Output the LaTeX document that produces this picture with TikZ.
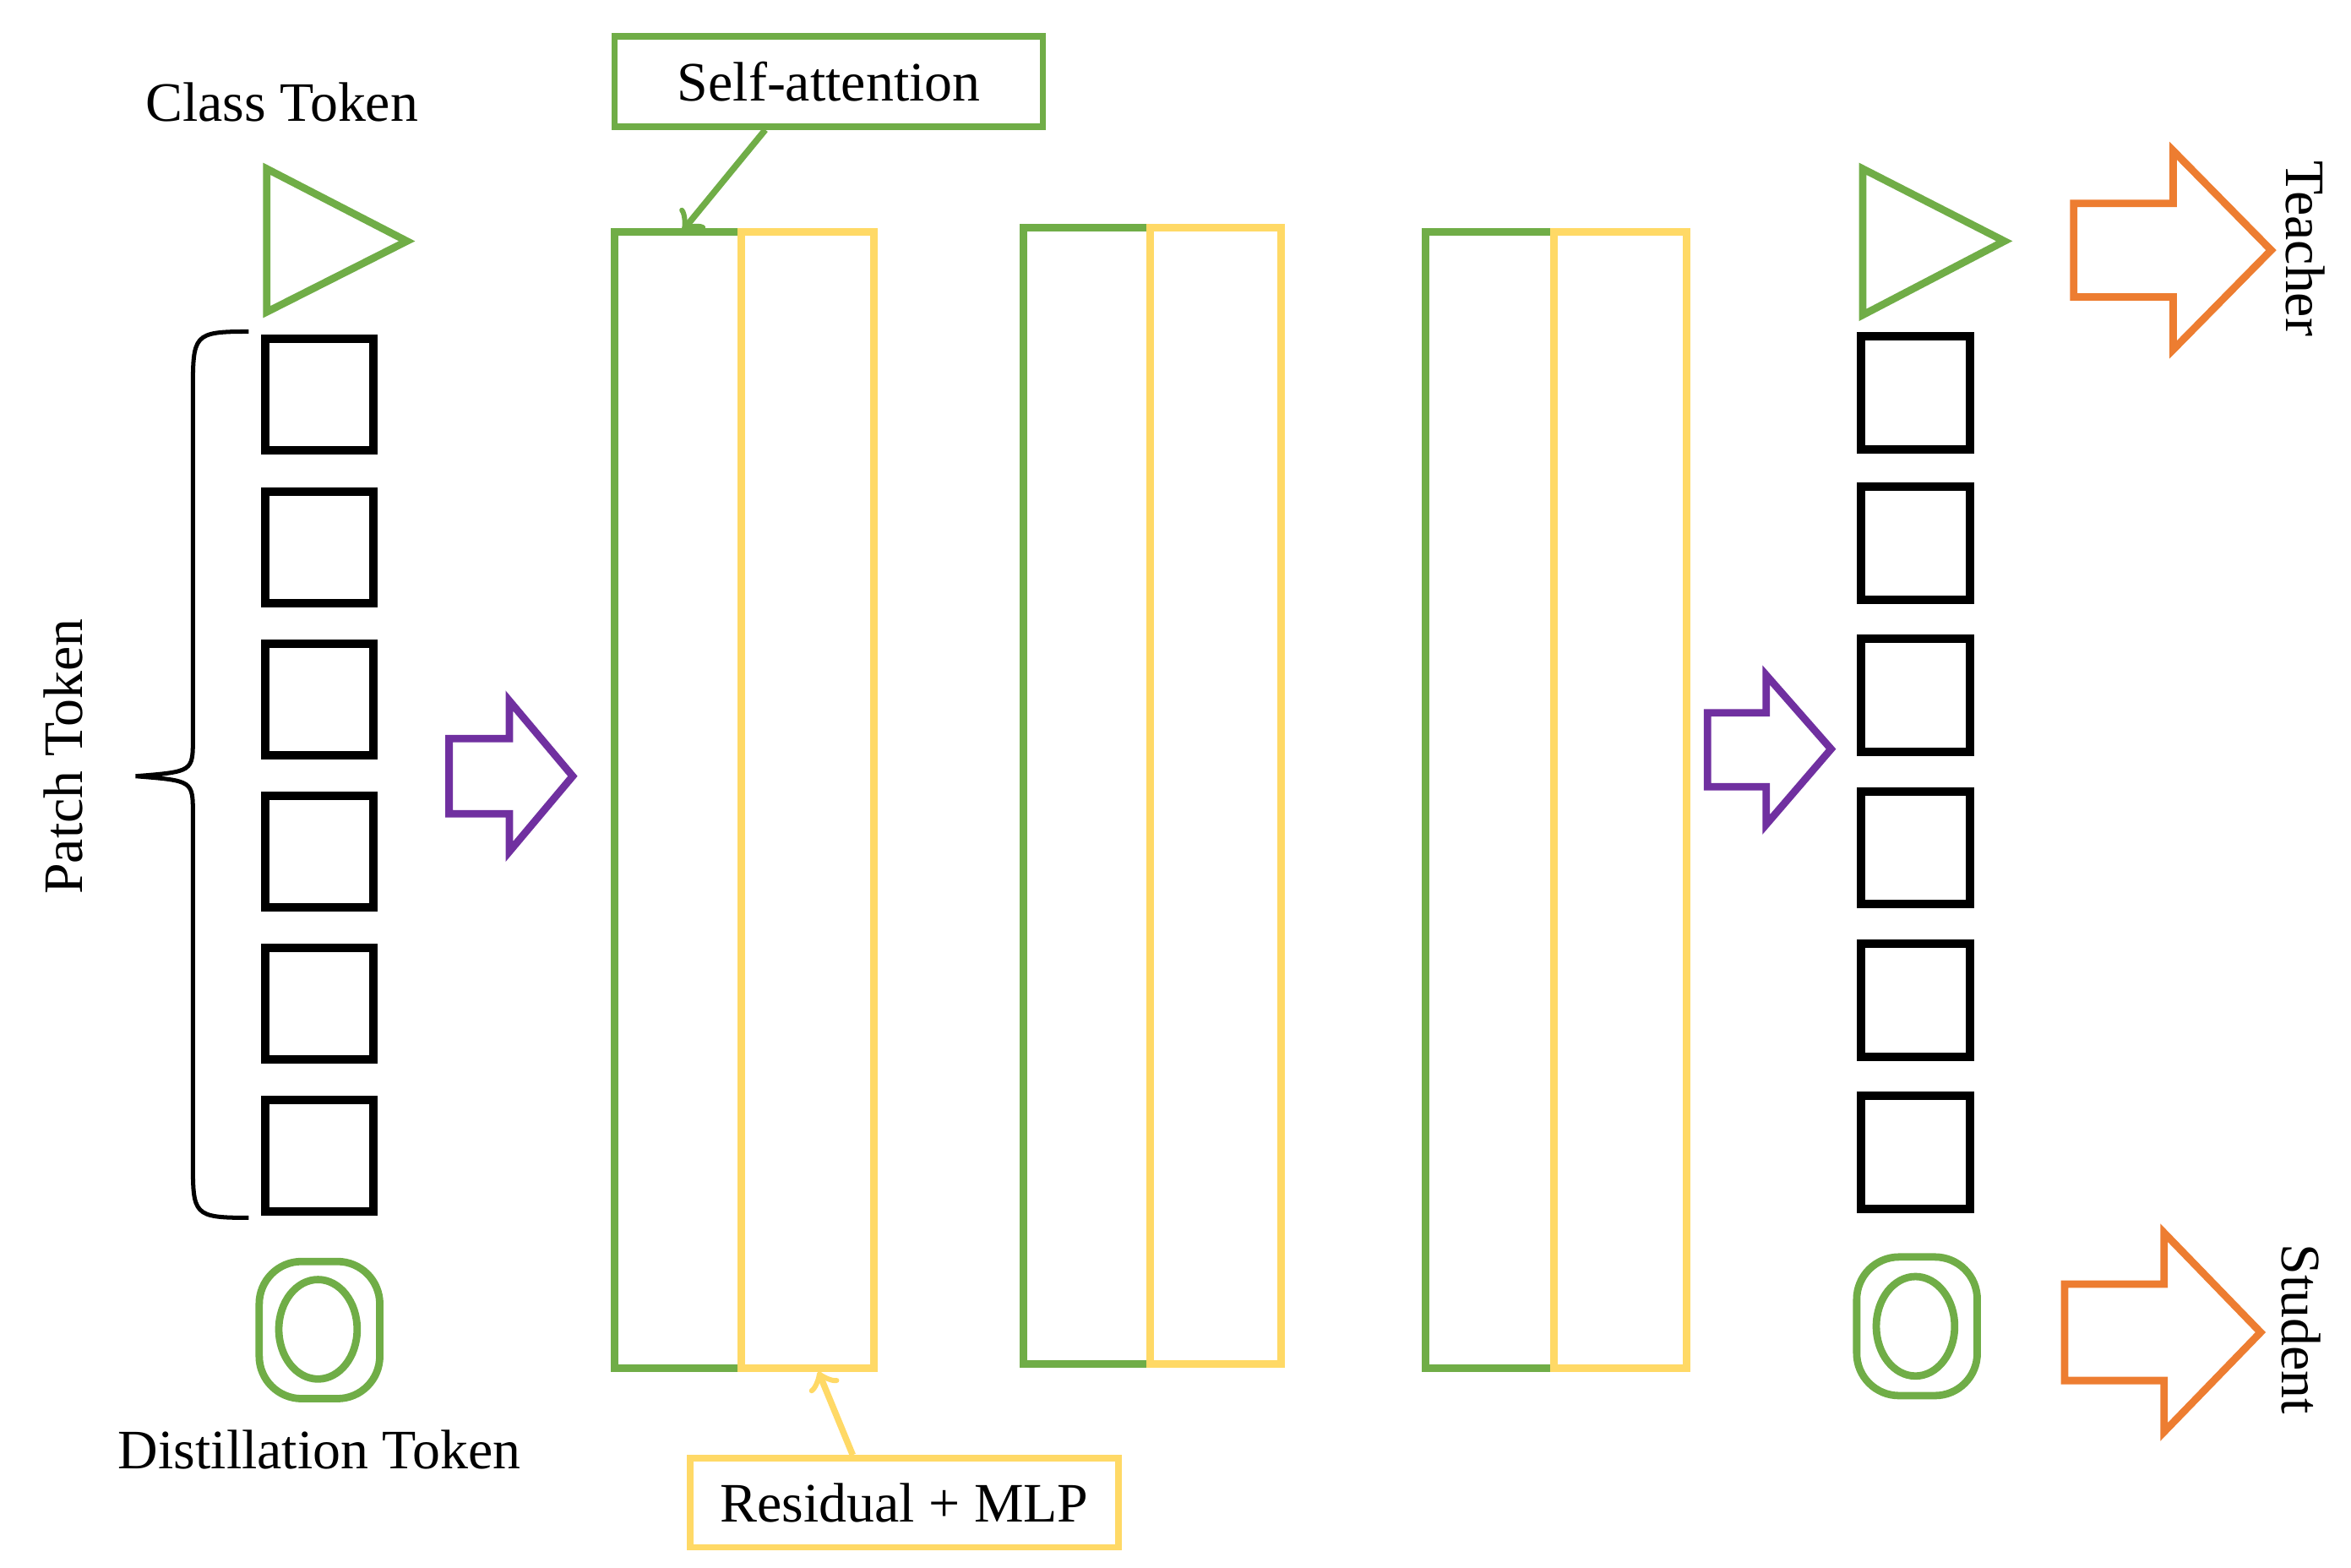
\documentclass[tikz,border=0pt]{standalone}
\usepackage{fontspec}
\setmainfont{Liberation Serif}
\definecolor{gr}{HTML}{70AD47}
\definecolor{ye}{HTML}{FFD966}
\definecolor{pu}{HTML}{7030A0}
\definecolor{orr}{HTML}{ED7D31}
\begin{document}
\begin{tikzpicture}[x=0.01cm,y=-0.01cm,
  tok/.style={draw=black,line width=1.6pt},
  gl/.style={draw=gr,line width=1.4pt},
  yl/.style={draw=ye,line width=1.4pt},
  lbl/.style={font=\fontsize{10.5}{12.5}\selectfont,inner sep=0pt}]
\useasboundingbox (0,0) rectangle (1560,1040);
% left tokens
\node[lbl] (ct) at (187,68) {Class Token};
\draw[gl] (177,112) -- (177,207) -- (270,160) -- cycle;
\foreach \y in {225,326,427,528,629,730} \draw[tok] (176,\y) rectangle ++(72,74);
\draw[line width=0.8pt] (165,220) .. controls (128,220) and (128,222) .. (128,260) -- (128,490) .. controls (128,512) .. (90,515) .. controls (128,518) .. (128,540) -- (128,770) .. controls (128,806) and (128,808) .. (165,808);
\node[lbl,rotate=90] (pt) at (42,502) {Patch Token};
\draw[gl,rounded corners=8pt] (172,837) rectangle (252,928);
\draw[gl] (211,882) ellipse (26 and 33);
\node[lbl] (dt) at (212,962) {Distillation Token};
% purple arrows
\draw[draw=pu,line width=1.4pt] (298,490) -- (338,490) -- (338,465) -- (380,515) -- (338,565) -- (338,540) -- (298,540) -- cycle;
\draw[draw=pu,line width=1.4pt] (1133,473) -- (1172,473) -- (1172,448) -- (1215,497) -- (1172,547) -- (1172,522) -- (1133,522) -- cycle;
% blocks
\draw[gl] (408,154) rectangle (492,908);
\draw[yl] (492,154) rectangle (580,908);
\draw[gl] (679,151) rectangle (763,905);
\draw[yl] (763,151) rectangle (850,905);
\draw[gl] (946,154) rectangle (1031,908);
\draw[yl] (1031,154) rectangle (1119,908);
\coordinate (satop) at (453,153);
\coordinate (rmbot) at (543,910);
\node[lbl,gl,line width=1.2pt,minimum width=2.84cm,minimum height=0.6cm] (sa) at (550,54) {Self-attention};
\node[lbl,yl,line width=1.2pt,minimum width=2.84cm,minimum height=0.59cm] (rm) at (600,997) {Residual + MLP};
\draw[gr,line width=1.2pt,->] (sa.south west) ++(102,0) -- (satop);
\draw[ye,line width=1.2pt,->] (rm.north west) ++(110,0) -- (rmbot);
% right tokens
\draw[gl] (1236,112) -- (1236,209) -- (1330,160) -- cycle;
\foreach \y in {223,323,424,525,626,727} \draw[tok] (1235,\y) rectangle ++(72,75);
\draw[gl,rounded corners=8pt] (1232,834) rectangle (1312,926);
\draw[gl] (1271,880) ellipse (26 and 33);
% orange arrows
\draw[draw=orr,line width=1.4pt] (1376,135) -- (1442,135) -- (1442,100) -- (1507,166) -- (1442,232) -- (1442,197) -- (1376,197) -- cycle;
\draw[draw=orr,line width=1.4pt] (1370,852) -- (1436,852) -- (1436,818) -- (1500,884) -- (1436,950) -- (1436,916) -- (1370,916) -- cycle;
\node[lbl,rotate=-90] (te) at (1530,165) {Teacher};
\node[lbl,rotate=-90] (st) at (1527,882) {Student};
\end{tikzpicture}
\end{document}
